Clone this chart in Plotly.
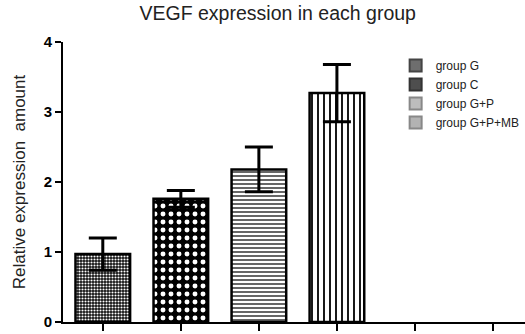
import plotly.graph_objects as go

groups = ["group G", "group C", "group G+P", "group G+P+MB"]
x_pos = [0, 1, 2, 3]
values = [0.97, 1.76, 2.18, 3.27]
errors = [0.23, 0.12, 0.32, 0.41]
legend_colors = ["#6e6e6e", "#4e4e4e", "#bdbdbd", "#b3b3b3"]
legend_edges = ["#444444", "#333333", "#888888", "#888888"]
y_ticks = [0, 1, 2, 3, 4]
x_ticks = [0, 1, 2, 3, 4, 5]

patterns = [
    dict(shape=".", fgcolor="white", bgcolor="#111111", size=3, solidity=0.4, fillmode="replace"),
    dict(shape=".", fgcolor="white", bgcolor="black", size=8, solidity=0.3, fillmode="replace"),
    dict(shape="-", fgcolor="black", bgcolor="white", size=4, solidity=0.3, fillmode="replace"),
    dict(shape="|", fgcolor="black", bgcolor="white", size=6, solidity=0.3, fillmode="replace"),
]

fig = go.Figure()
for i, g in enumerate(groups):
    fig.add_trace(go.Bar(
        x=[x_pos[i]], y=[values[i]], width=0.7, showlegend=False,
        marker=dict(color="white", line=dict(color="black", width=2.5), pattern=patterns[i]),
        error_y=dict(type="data", array=[errors[i]], color="black", thickness=3, width=14),
    ))
for i, g in enumerate(groups):
    fig.add_trace(go.Scatter(
        x=[None], y=[None], mode="markers", name=g,
        marker=dict(symbol="square", size=9, color=legend_colors[i], line=dict(color=legend_edges[i], width=1)),
    ))

fig.update_layout(
    width=525, height=334,
    margin=dict(l=63, r=0, t=42, b=12),
    paper_bgcolor="white", plot_bgcolor="white",
    title=dict(text="VEGF expression in each group", x=0.529, xanchor="center", y=0.961, yanchor="middle",
               font=dict(family="Arial", size=19.5, color="#222")),
    font=dict(family="Arial", color="#222"),
    showlegend=True,
    legend=dict(x=0.72, y=0.968, xanchor="left", yanchor="top", font=dict(size=12, color="#222"),
                tracegroupgap=0, itemsizing="constant", bgcolor="rgba(0,0,0,0)"),
    bargap=0.3,
)
fig.update_xaxes(range=[-0.51, 5.41], tickvals=x_ticks, ticktext=[""] * 6, ticks="outside",
                 ticklen=7, tickwidth=2, tickcolor="black", showline=True, linecolor="black",
                 linewidth=2, showgrid=False, zeroline=False)
fig.update_yaxes(range=[0, 4], tickvals=y_ticks, ticks="outside", ticklen=6, tickwidth=2,
                 tickcolor="black", showline=True, linecolor="black", linewidth=2, showgrid=False,
                 zeroline=False, tickfont=dict(family="Arial", size=15, color="black", weight="bold"),
                 title=dict(text="Relative expression  amount", font=dict(family="Arial", size=17, color="#222"),
                            standoff=14))

fig.write_html("out.html", config={"displayModeBar": False},
               post_script="document.body.style.margin='0';")
